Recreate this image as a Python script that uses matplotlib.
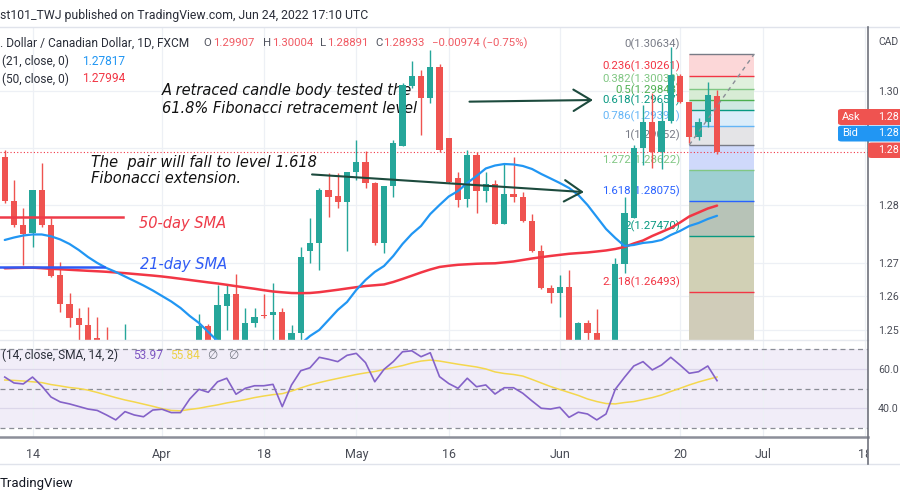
import numpy as np
import pandas as pd
import matplotlib
matplotlib.use("Agg")
import matplotlib.pyplot as plt
from matplotlib.patches import FancyArrowPatch, FancyBboxPatch
from matplotlib.lines import Line2D
from matplotlib.ticker import FormatStrFormatter, FuncFormatter
from matplotlib.transforms import Bbox, TransformedBbox

plt.rcParams['font.family'] = ['Roboto', 'DejaVu Sans']

# ---------------- data ----------------
first_day = "2022-03-09"
last_axis_day = "2022-07-29"

opens = [1.28843, 1.28080, 1.27657, 1.27512, 1.28267, 1.27657, 1.26784, 1.26273, 1.26029, 1.25912,
         1.25690, 1.25450, 1.25000, 1.24800, 1.25300, 1.24900, 1.24750, 1.25000, 1.24900, 1.24500,
         1.24900, 1.25400, 1.25895, 1.25600, 1.26249, 1.26448, 1.25550, 1.25942, 1.26086, 1.26086,
         1.26134, 1.25400, 1.25767, 1.27203, 1.27337, 1.28267, 1.28162, 1.28063, 1.28586, 1.28761,
         1.28384, 1.27337, 1.28337, 1.29040, 1.30081, 1.30255, 1.29877, 1.30418, 1.29169, 1.28471,
         1.28105, 1.28878, 1.28249, 1.28366, 1.27669, 1.28192, 1.28150, 1.27726, 1.27203, 1.26552,
         1.26475, 1.26580, 1.25300, 1.25942, 1.25767, 1.25500, 1.25300, 1.26971, 1.27784, 1.28994,
         1.29448, 1.28925, 1.29471, 1.30255, 1.29797, 1.29197, 1.29458, 1.29907]
highs = [1.28965, 1.28442, 1.27958, 1.28267, 1.28733, 1.27784, 1.27006, 1.26465, 1.26214, 1.26232,
         1.26047, 1.25869, 1.25400, 1.25930, 1.25600, 1.25200, 1.25300, 1.25400, 1.25200, 1.25100,
         1.25600, 1.26099, 1.25930, 1.26610, 1.26622, 1.26797, 1.26214, 1.26214, 1.26448, 1.26640,
         1.26214, 1.25912, 1.27278, 1.27784, 1.28297, 1.28558, 1.28558, 1.28586, 1.29139, 1.28947,
         1.28412, 1.28337, 1.29139, 1.30133, 1.30517, 1.30360, 1.30709, 1.30460, 1.29169, 1.28586,
         1.28965, 1.28935, 1.28586, 1.28442, 1.28733, 1.28849, 1.28237, 1.27843, 1.27308, 1.26610,
         1.26784, 1.26871, 1.25970, 1.25999, 1.26186, 1.25600, 1.27076, 1.28150, 1.29052, 1.29750,
         1.29954, 1.29807, 1.30767, 1.30290, 1.29802, 1.29523, 1.30156, 1.30004]
lows = [1.28040, 1.27627, 1.26959, 1.27278, 1.27627, 1.26755, 1.26144, 1.25883, 1.25550, 1.25400,
        1.25200, 1.24900, 1.24650, 1.24700, 1.24600, 1.24550, 1.24500, 1.24600, 1.24300, 1.24030,
        1.24800, 1.25200, 1.25450, 1.25500, 1.25825, 1.25400, 1.25450, 1.25883, 1.26029, 1.25600,
        1.25200, 1.24600, 1.25650, 1.26988, 1.26871, 1.27801, 1.27947, 1.27203, 1.28442, 1.28297,
        1.27308, 1.27163, 1.28150, 1.29035, 1.30040, 1.29226, 1.29779, 1.28935, 1.28384, 1.27976,
        1.27976, 1.27861, 1.28063, 1.27669, 1.27669, 1.28063, 1.27714, 1.27191, 1.26535, 1.26301,
        1.26057, 1.25150, 1.25200, 1.25600, 1.25350, 1.25100, 1.25150, 1.26814, 1.27779, 1.28703,
        1.28656, 1.28633, 1.29440, 1.29779, 1.29081, 1.29139, 1.29371, 1.28891]
closes = [1.28075, 1.27657, 1.27494, 1.28267, 1.27657, 1.26772, 1.26273, 1.26029, 1.25912, 1.25550,
          1.25400, 1.25000, 1.24800, 1.25300, 1.24900, 1.24750, 1.25000, 1.24900, 1.24500, 1.24900,
          1.25400, 1.25895, 1.25600, 1.26261, 1.26448, 1.25550, 1.25952, 1.26057, 1.26074, 1.26134,
          1.25400, 1.25778, 1.27103, 1.27337, 1.28267, 1.28150, 1.28063, 1.28586, 1.28761, 1.28384,
          1.27337, 1.28337, 1.29082, 1.30098, 1.30255, 1.29877, 1.30418, 1.28965, 1.28412, 1.28093,
          1.28878, 1.28249, 1.28366, 1.27669, 1.28192, 1.28150, 1.27726, 1.27203, 1.26552, 1.26475,
          1.26580, 1.25300, 1.25942, 1.25767, 1.25500, 1.25300, 1.26971, 1.27866, 1.28994, 1.29448,
          1.28925, 1.29471, 1.30273, 1.29797, 1.29197, 1.29458, 1.29924, 1.28933]

sma21 = [1.27395, 1.27438, 1.27473, 1.27491, 1.27491, 1.27459, 1.27404, 1.27325, 1.27220, 1.27098,
         1.26994, 1.26906, 1.26837, 1.26758, 1.26680, 1.26601, 1.26514, 1.26418, 1.26322, 1.26209,
         1.26069, 1.25947, 1.25790, 1.25633, 1.25476, 1.25406, 1.25354, 1.25336, 1.25336, 1.25354,
         1.25406, 1.25476, 1.25581, 1.25720, 1.25825, 1.25999, 1.26174, 1.26313, 1.26523, 1.26697,
         1.26837, 1.26941, 1.27116, 1.27325, 1.27500, 1.27639, 1.27848, 1.28005, 1.28154, 1.28249,
         1.28389, 1.28511, 1.28642, 1.28694, 1.28720, 1.28712, 1.28686, 1.28633, 1.28546, 1.28468,
         1.28389, 1.28302, 1.28180, 1.28005, 1.27796, 1.27587, 1.27430, 1.27290, 1.27308, 1.27343,
         1.27360, 1.27395, 1.27482, 1.27552, 1.27639, 1.27691, 1.27761, 1.27817]
sma50 = [1.26901, 1.26906, 1.26910, 1.26912, 1.26903, 1.26892, 1.26884, 1.26875, 1.26866, 1.26857,
         1.26849, 1.26840, 1.26828, 1.26816, 1.26802, 1.26788, 1.26774, 1.26758, 1.26739, 1.26718,
         1.26697, 1.26676, 1.26655, 1.26636, 1.26613, 1.26589, 1.26566, 1.26544, 1.26519, 1.26496,
         1.26482, 1.26470, 1.26467, 1.26470, 1.26484, 1.26505, 1.26526, 1.26549, 1.26571, 1.26592,
         1.26605, 1.26619, 1.26662, 1.26715, 1.26771, 1.26828, 1.26880, 1.26924, 1.26945, 1.26962,
         1.26971, 1.26980, 1.26985, 1.26988, 1.27004, 1.27020, 1.27046, 1.27072, 1.27095, 1.27116,
         1.27135, 1.27154, 1.27166, 1.27177, 1.27194, 1.27212, 1.27238, 1.27273, 1.27334, 1.27386,
         1.27465, 1.27534, 1.27604, 1.27700, 1.27805, 1.27874, 1.27944, 1.27994]

rsi = [55.8, 52.8, 52.3, 55.8, 51.3, 45.7, 43.2, 42.2, 40.9, 39.6,
       38.9, 36.6, 34.1, 38.3, 36.6, 35.7, 39.1, 39.5, 37.8, 37.8,
       44.7, 49.6, 48.1, 53.4, 55.2, 47.1, 50.1, 51.4, 51.4, 52.1,
       40.8, 51.8, 59.0, 60.5, 65.8, 64.8, 63.6, 66.8, 67.8, 63.1,
       53.4, 59.7, 63.6, 68.6, 69.1, 66.1, 68.1, 56.0, 52.5, 50.1,
       55.2, 50.9, 51.8, 47.2, 50.4, 50.4, 47.6, 43.7, 40.0, 39.6,
       40.5, 35.4, 38.0, 37.1, 34.1, 37.1, 49.6, 55.7, 61.4, 63.6,
       59.4, 61.9, 65.8, 61.9, 57.7, 58.5, 61.4, 53.97]
rsi_ma = [54.3, 54.1, 53.8, 53.4, 53.0, 52.0, 51.3, 50.5, 50.0, 49.2,
          48.0, 46.7, 45.4, 44.2, 43.2, 42.1, 41.0, 39.8, 38.9, 38.7,
          39.4, 40.0, 40.9, 41.7, 42.7, 43.5, 44.4, 45.4, 46.2, 46.9,
          47.4, 48.7, 50.3, 51.8, 53.0, 54.1, 55.1, 56.1, 57.1, 57.9,
          58.6, 59.6, 60.6, 61.6, 62.9, 63.9, 64.4, 63.9, 63.1, 62.3,
          61.6, 60.9, 59.9, 58.4, 57.6, 57.1, 56.3, 54.6, 52.8, 51.0,
          49.5, 48.0, 46.5, 44.7, 43.4, 42.4, 42.2, 42.9, 43.4, 44.4,
          45.4, 46.7, 48.5, 50.1, 51.8, 53.3, 54.6, 55.84]

fib_levels = [0, 0.236, 0.382, 0.5, 0.618, 0.786, 1, 1.272, 1.618, 2, 2.618]
fib_prices = [1.30634, 1.30261, 1.30030, 1.29843, 1.29657, 1.29391, 1.29052,
              1.28622, 1.28075, 1.27470, 1.26493]
fib_start, fib_end = "2022-06-21", "2022-06-30"

tick_dates = ["2022-03-14", "2022-04-01", "2022-04-18", "2022-05-02", "2022-05-16",
              "2022-06-01", "2022-06-20", "2022-07-01", "2022-07-18"]
tick_labels = ["14", "Apr", "18", "May", "16", "Jun", "20", "Jul", "18"]
price_ticks = [1.30, 1.29, 1.28, 1.27, 1.2642, 1.2582]
rsi_ticks = [60, 40]
rsi_bands = [70, 50, 30]

# ---------------- styling ----------------
W, H = 900, 500
UP, DN = '#26a69a', '#ef5350'
fib_colors = ['#787b86', '#f23645', '#81c784', '#4caf50', '#089981', '#64b5f6',
              '#787b86', '#81c784', '#2962ff', '#089981', '#f23645']
fib_fills = ['#fcd7d8', '#e0f0dd', '#d7ecd5', '#cfe9e2', '#dbedfa', '#e4e4e7',
             '#cfd9fb', '#9ecfd2', '#b7c3b7', '#d1d0b5', '#d0ccb9']

days = pd.bdate_range(first_day, last_axis_day)
n = len(opens)
x = np.arange(n)
tick_pos = [days.get_loc(pd.Timestamp(d)) for d in tick_dates]
fx0 = days.get_loc(pd.Timestamp(fib_start))
fx1 = days.get_loc(pd.Timestamp(fib_end))

o = np.array(opens); c = np.array(closes)
hi = np.array(highs); lo = np.array(lows)
up = c >= o
cols = np.where(up, UP, DN)


def fx(px):
    return px / W


def fy(py):
    return 1 - py / H


fig = plt.figure(figsize=(9, 5), dpi=100)
fig.patch.set_facecolor('white')

ax = fig.add_axes([0, fy(340), fx(868), (340 - 27) / H])
ar = fig.add_axes([0, fy(437), fx(868), (437 - 340) / H])

XL = (-0.5135, 93.32)
for a in (ax, ar):
    a.set_xlim(*XL)
    for s in a.spines.values():
        s.set_visible(False)
    a.set_xticks(tick_pos)
    a.grid(True, axis='both', color='#edf0f5', lw=0.9, zorder=0)
    a.set_axisbelow(True)
    a.yaxis.tick_right()

ax.set_ylim(1.25650, 1.31110)
ar.set_ylim(25.45, 74.56)

# ---------- main pane ----------
ax.vlines(x, lo, hi, colors=cols, lw=1.0, zorder=3)
ax.bar(x, np.maximum(np.abs(c - o), 0.00007), bottom=np.minimum(o, c), width=0.66,
       color=cols, lw=0, zorder=4)

ax.plot(x, sma50, color='#f23645', lw=1.8, zorder=5, solid_capstyle='round')
ax.plot(x, sma21, color='#2196f3', lw=1.6, zorder=5, solid_capstyle='round')

# close price dotted line
ax.axhline(closes[-1], color='#f23645', lw=0.8, ls=(0, (1, 2)), zorder=2)

# fibonacci box
bounds = fib_prices + [1.20]
for k in range(len(fib_prices)):
    ax.fill_between([fx0, fx1], bounds[k + 1], bounds[k], color=fib_fills[k], lw=0, zorder=1)
ax.hlines(fib_prices, fx0, fx1, colors=fib_colors, lw=1.0, zorder=2)
ax.plot([fx0, fx1], [fib_prices[6], fib_prices[0]], color='#8a8d96', lw=1.0,
        ls=(0, (3, 3)), zorder=6)
for lvl, pr, col in zip(fib_levels, fib_prices, fib_colors):
    ax.annotate(f"{lvl:g}({pr:.5f})", xy=(fx0 - 1, pr), xytext=(0, 7),
                textcoords='offset points', ha='right', va='center',
                fontsize=8.2, color=col, zorder=2.5)

# author drawings
ann_black = dict(fontsize=10.5, family='DejaVu Sans', style='italic', color='#111111')
ax.text(17.0, 1.29994, "A retraced candle body tested the", va='center', **ann_black)
ax.text(17.0, 1.29697, "61.8% Fibonacci retracement level", va='center', **ann_black)
ax.text(9.3, 1.28755, "The  pair will fall to level 1.618", va='center', **ann_black)
ax.text(9.3, 1.28459, "Fibonacci extension.", va='center', **ann_black)
ax.text(14.5, 1.27674, "50-day SMA", va='center', fontsize=10.5, family='DejaVu Sans',
        style='italic', color='#ee3a48')
ax.text(14.6, 1.26959, "21-day SMA", va='center', fontsize=10.5, family='DejaVu Sans',
        style='italic', color='#2f5bf5')
ax.plot([-0.6, 12.78], [1.27801, 1.27801], color='#ef3b49', lw=1.8, zorder=6)
ax.plot([-0.6, 10.73], [1.26930, 1.26930], color='#2f5bf5', lw=1.8, zorder=6)

arrow_col = '#1c4a3d'
for (x0, y0), (x1, y1) in [((49.94, 1.29807), (63.89, 1.29837)),
                           ((32.92, 1.28541), (62.91, 1.28227))]:
    ax.add_patch(FancyArrowPatch((x0, y0), (x1, y1),
                                 arrowstyle='->,head_length=0.9,head_width=0.55',
                                 mutation_scale=14, color=arrow_col, lw=1.5, zorder=8))

ax.set_yticks(price_ticks)
ax.yaxis.set_major_formatter(FuncFormatter(lambda v, p: f"{np.floor(v * 100 + 1e-6) / 100:.2f}"))
ax.tick_params(axis='y', length=0, pad=7.3, labelsize=7.7, labelcolor='#4a4d57')
ax.tick_params(axis='x', length=0, labelbottom=False)

# ---------- RSI pane ----------
ar.axhspan(30, 70, color='#f1edf8', lw=0, zorder=0)
for lv in rsi_bands:
    ar.axhline(lv, color='#8a8d96', lw=0.9, ls=(0, (4, 3)), zorder=1)
ar.set_yticks(rsi_ticks)
ar.yaxis.set_major_formatter(FormatStrFormatter('%.1f'))
ar.grid(True, axis='y', color='#dcd7ea', lw=0.9)
ar.plot(x, rsi_ma, color='#f4d74d', lw=1.1, zorder=3)
ar.plot(x, rsi, color='#8462c8', lw=1.2, zorder=4)
ar.tick_params(axis='y', length=0, pad=7.3, labelsize=7.7, labelcolor='#4a4d57')
ar.set_xticklabels(tick_labels)
ar.tick_params(axis='x', length=0, pad=8, labelsize=9, labelcolor='#4a4d57')
clipbox = TransformedBbox(Bbox([[0, 0], [fx(868), 1]]), fig.transFigure)
for lbl in ar.get_xticklabels():
    lbl.set_clip_box(clipbox)
    lbl.set_clip_on(True)

# ---------- frame lines ----------
def fline(xs, ys, **kw):
    fig.add_artist(Line2D([fx(v) for v in xs], [fy(v) for v in ys],
                          transform=fig.transFigure, **kw))


fline([0, 900], [27, 27], color='#e0e3eb', lw=1.0)
fline([0, 868], [340, 340], color='#e6e9ef', lw=1.0)
fline([0, 868], [437, 437], color='#8c8f99', lw=1.8)
fline([0, 900], [464, 464], color='#e0e3eb', lw=1.0)
fline([868, 868], [27, 464], color='#6f727c', lw=1.2)

# ---------- texts ----------
def ftxt(px, py, s, **kw):
    kw.setdefault('va', 'center')
    fig.text(fx(px), fy(py), s, **kw)


DARK = '#2a2e39'
GREY = '#50535e'
RED = '#f05a63'
ftxt(0, 15, "st101_TWJ published on TradingView.com, Jun 24, 2022 17:10 UTC",
     fontsize=8.8, color=DARK)
ftxt(0, 43, ". Dollar / Canadian Dollar, 1D, FXCM", fontsize=8.6, color=DARK)
for px, s, col in [(203, "O", GREY), (213, "1.29907", RED), (263, "H", GREY),
                   (272, "1.30004", RED), (320, "L", GREY), (327, "1.28891", RED),
                   (375, "C", GREY), (383, "1.28933", RED),
                   (432, "\u22120.00974 (\u22120.75%)", RED)]:
    ftxt(px, 43, s, fontsize=8.2, color=col)
ftxt(2, 61.5, "(21, close, 0)", fontsize=8.6, color=DARK)
ftxt(82, 61.5, "1.27817", fontsize=8.6, color='#2196f3')
ftxt(2, 79, "(50, close, 0)", fontsize=8.6, color=DARK)
ftxt(82, 79, "1.27994", fontsize=8.6, color='#f23645')

ftxt(2, 355.5, "(14, close, SMA, 14, 2)", fontsize=8.6, color=DARK)
ftxt(133, 355.5, "53.97", fontsize=8.6, color='#7e57c2')
ftxt(170, 355.5, "55.84", fontsize=8.6, color='#ecd14a')
ftxt(207, 355.5, "\u2205", fontsize=8.6, color='#787b86', family='DejaVu Sans')
ftxt(228, 355.5, "\u2205", fontsize=8.6, color='#787b86', family='DejaVu Sans')

ftxt(878, 42, "CAD", fontsize=7.5, color='#4a4d57')

# price tags
def ftag(x0, y0, x1, y1, col, z=5):
    fig.add_artist(FancyBboxPatch((fx(x0), fy(y1)), fx(x1) - fx(x0), (y1 - y0) / H,
                                  boxstyle="round,pad=0,rounding_size=0.004",
                                  transform=fig.transFigure, fc=col, ec='none', zorder=z))


ftag(838, 109, 905, 125, '#ef5350')
ftag(838, 125.7, 905, 141.5, '#2196f3')
ftag(868, 142.5, 905, 158, '#ef5350')
ftxt(842, 117, "Ask", fontsize=8, color='white', zorder=6)
ftxt(878, 117, "1.28", fontsize=7.7, color='white', zorder=6)
ftxt(842, 133.5, "Bid", fontsize=8, color='white', zorder=6)
ftxt(878, 133.5, "1.28", fontsize=7.7, color='white', zorder=6)
ftxt(878, 150.3, "1.28", fontsize=7.7, color='white', zorder=6)

ftxt(0, 483, "TradingView", fontsize=9.5, color='#131722')

fig.savefig("out.png", dpi=100)
